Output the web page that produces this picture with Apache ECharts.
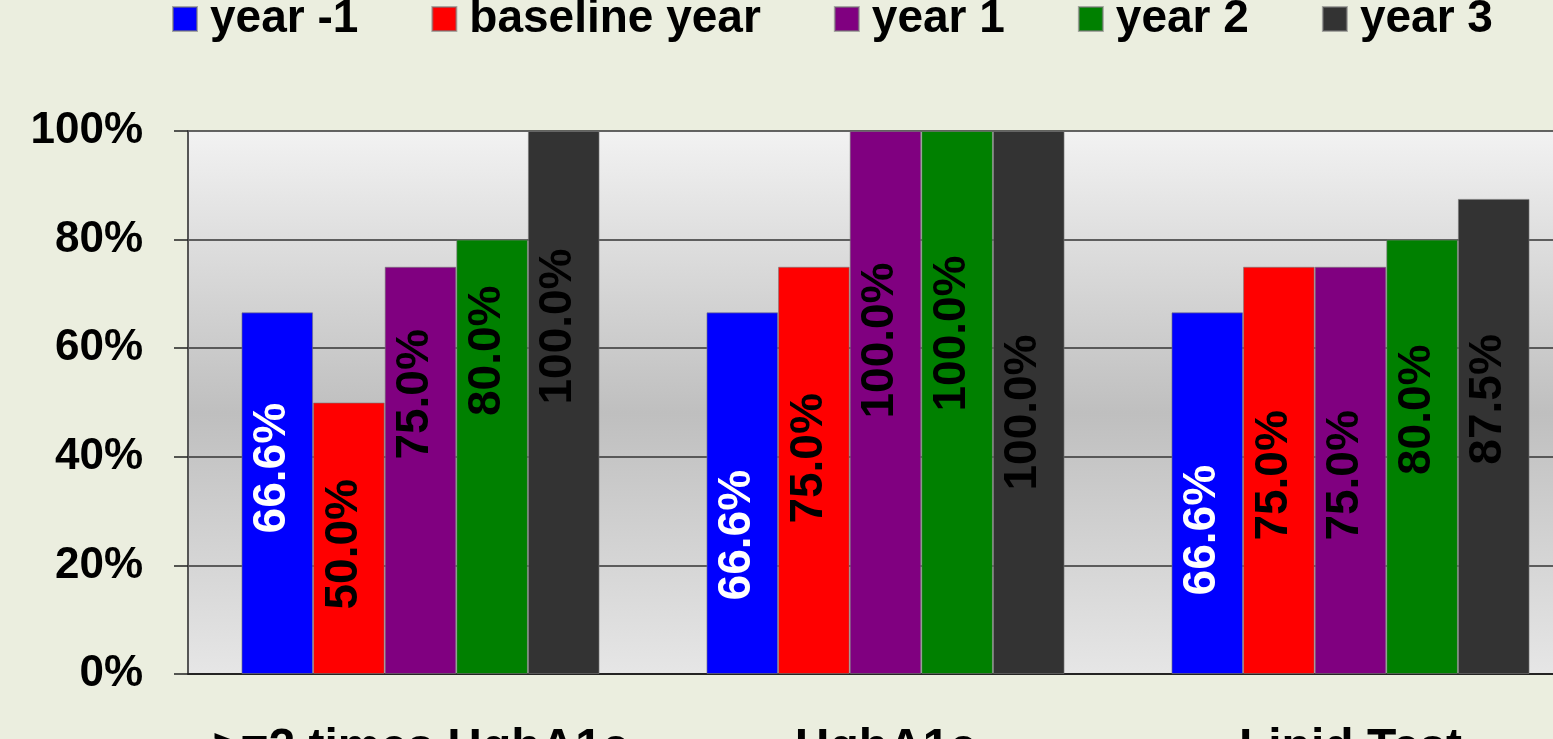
<!DOCTYPE html>
<html>
<head>
<meta charset="utf-8">
<script src="https://cdn.jsdelivr.net/npm/echarts@6/dist/echarts.min.js"></script>
<style>
	html, body { margin: 0; padding: 0; background: #ebeedf; }
	#chart { width: 1553px; height: 739px; }
</style>
</head>
<body>
<div id="chart"></div>
<script>
	// categories and series values (percent)
	const categories = ['>=2 times HgbA1c', 'HgbA1c', 'Lipid Test']
	const seriesNames = ['year -1', 'baseline year', 'year 1', 'year 2', 'year 3']
	const yearMinus1 = [66.6, 66.6, 66.6]
	const baselineYear = [50.0, 75.0, 75.0]
	const year1 = [75.0, 100.0, 75.0]
	const year2 = [80.0, 100.0, 80.0]
	const year3 = [100.0, 100.0, 87.5]
	const yTicks = [0, 20, 40, 60, 80, 100]

	// the labels were dragged by hand in the original, nudge them down (px, from bar middle)
	const labelNudge = [
		[-25, 42, 37],
		[6, -12, 5],
		[-76, -62, 5],
		[-106, -69, -47],
		[-76, 10, -37]
	]

	const colors = ['#0000ff', '#ff0000', '#800080', '#008000', '#333333']
	const labelColors = ['#ffffff', '#000000', '#000000', '#000000', '#000000']
	const font = "'Liberation Sans', Arial, sans-serif"

	const allValues = [yearMinus1, baselineYear, year1, year2, year3]

	const series = allValues.map((vals, i) => ({
		name: seriesNames[i],
		type: 'bar',
		barGap: '0%',
		barCategoryGap: '23%',
		itemStyle: {
			color: colors[i],
			borderColor: 'rgba(120,120,120,0.6)',
			borderWidth: 1
		},
		label: {
			show: true,
			position: 'inside',
			rotate: 90,
			color: labelColors[i],
			fontFamily: font,
			fontWeight: 'bold',
			fontSize: 46,
			formatter: (p) => p.value.toFixed(1) + '%'
		},
		data: vals.map((v, j) => ({
			value: v,
			// offset works in the rotated text frame: local x points up, local y points right
			label: { offset: [-labelNudge[i][j], -5] }
		}))
	}))

	const myChart = echarts.init(document.getElementById('chart'))
	myChart.setOption({
		backgroundColor: '#ebeedf',
		animation: false,
		color: colors,
		legend: {
			left: 167,
			top: -9,
			itemWidth: 24,
			itemHeight: 24,
			itemGap: 73,
			icon: 'rect',
			textStyle: {
				fontFamily: font,
				fontWeight: 'bold',
				fontSize: 46,
				color: '#000',
				padding: [0, 0, 0, 8]
			},
			data: seriesNames
		},
		grid: {
			show: true,
			left: 188,
			top: 131,
			width: 1395,
			height: 543,
			outerBoundsMode: 'none',
			containLabel: false,
			borderWidth: 0,
			backgroundColor: {
				type: 'linear', x: 0, y: 0, x2: 0, y2: 1,
				colorStops: [
					{ offset: 0, color: '#f2f2f2' },
					{ offset: 0.52, color: '#bfbfbf' },
					{ offset: 1, color: '#e6e6e6' }
				]
			}
		},
		xAxis: {
			type: 'category',
			data: categories,
			axisLine: { lineStyle: { color: '#111', width: 1.5 } },
			axisTick: { show: false },
			axisLabel: {
				interval: 0,
				margin: 51,
				color: '#000',
				fontFamily: font,
				fontWeight: 'bold',
				fontSize: 48
			}
		},
		yAxis: {
			type: 'value',
			min: yTicks[0],
			max: yTicks[yTicks.length - 1],
			interval: 20,
			axisLine: { show: true, lineStyle: { color: '#555', width: 2 } },
			axisTick: { show: true, length: 14, lineStyle: { color: '#222', width: 1.5 } },
			splitLine: { lineStyle: { color: '#333', width: 1.5 } },
			axisLabel: {
				margin: 45,
				color: '#000',
				fontFamily: font,
				fontWeight: 'bold',
				fontSize: 44,
				formatter: '{value}%'
			}
		},
		series: series
	})
</script>
</body>
</html>
